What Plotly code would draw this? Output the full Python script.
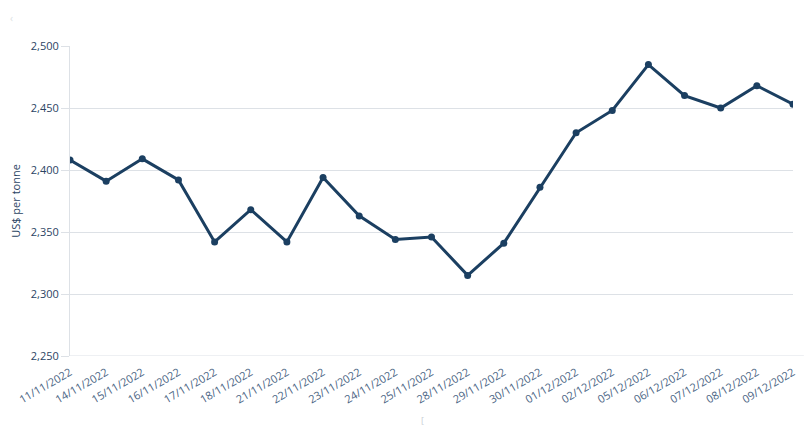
import plotly.graph_objects as go

dates = ["11/11/2022", "14/11/2022", "15/11/2022", "16/11/2022", "17/11/2022",
         "18/11/2022", "21/11/2022", "22/11/2022", "23/11/2022", "24/11/2022",
         "25/11/2022", "28/11/2022", "29/11/2022", "30/11/2022", "01/12/2022",
         "02/12/2022", "05/12/2022", "06/12/2022", "07/12/2022", "08/12/2022",
         "09/12/2022"]
prices = [2408, 2391, 2409, 2392, 2342, 2368, 2342, 2394, 2363, 2344,
          2346, 2315, 2341, 2386, 2430, 2448, 2485, 2460, 2450, 2468, 2453]
y_ticks = [2250, 2300, 2350, 2400, 2450, 2500]

line_color = "#1b3f61"
text_color = "#2b4463"

fig = go.Figure()
fig.add_trace(go.Scatter(
    x=list(range(len(dates))), y=prices, mode="lines+markers",
    line=dict(color=line_color, width=3),
    marker=dict(color=line_color, size=7),
    hoverinfo="skip",
))

fig.update_layout(
    width=804, height=432,
    margin=dict(l=62, r=19, t=38, b=84, autoexpand=False),
    paper_bgcolor="white", plot_bgcolor="white",
    showlegend=False,
    font=dict(family="Open Sans", size=11, color=text_color),
    xaxis=dict(
        range=[0, len(dates) - 1],
        tickmode="array", tickvals=list(range(len(dates))), ticktext=dates,
        tickangle=-30, showgrid=False, zeroline=False,
        showline=False, ticks="outside", ticklen=5, tickcolor="rgba(0,0,0,0)",
        automargin=False,
        tickfont=dict(size=11, color="#4b6584"),
    ),
    yaxis=dict(
        range=[2250, 2500], tickmode="array", tickvals=y_ticks,
        tickformat=",", showgrid=True, gridcolor="#dde1e6", gridwidth=1,
        zeroline=False, showline=True, linecolor="#dde1e6", linewidth=1,
        ticks="outside", ticklen=8, tickcolor="#dde1e6", automargin=False,
        tickfont=dict(size=11, color=text_color),
        title=dict(text="US$ per tonne", font=dict(size=11, color=text_color), standoff=8),
    ),
)

fig.add_annotation(x=0.487, y=-0.236, xref="paper", yref="paper", text="[",
                   showarrow=False, font=dict(size=9, color="#c8ccd2"))
fig.add_annotation(x=-0.0855, y=1.09, xref="paper", yref="paper", text="‹",
                   showarrow=False, font=dict(size=10, color="#dcdfe3"),
                   xanchor="left", yanchor="middle")
fig.add_shape(type="line", xref="paper", yref="y", x0=0, x1=1.015, y0=2250, y1=2250,
              line=dict(color="#dde1e6", width=1))

fig.write_html("out.html")
